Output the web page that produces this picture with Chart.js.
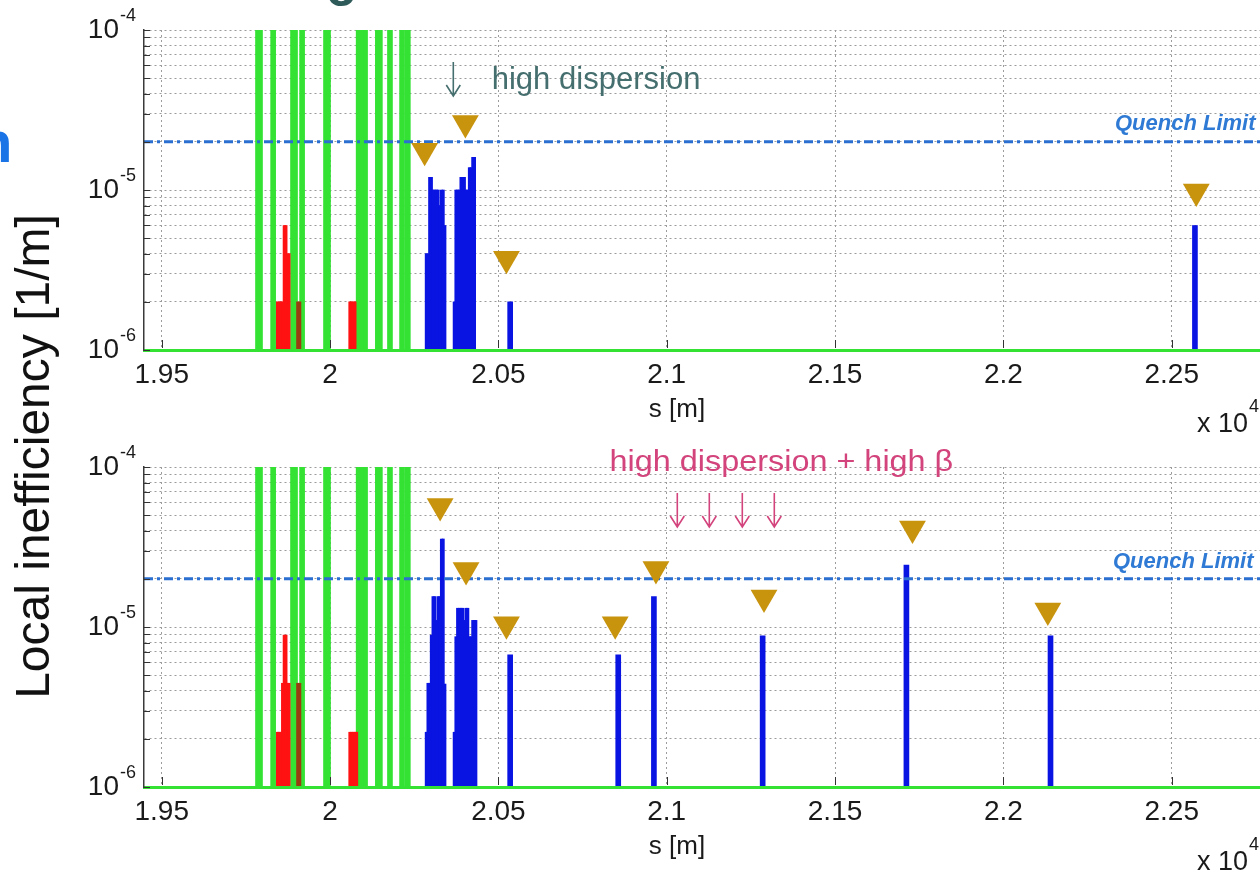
<!DOCTYPE html>
<html><head><meta charset="utf-8">
<script src="https://cdn.jsdelivr.net/npm/chart.js@4.4.1/dist/chart.umd.min.js"></script>
<style>
html,body{margin:0;padding:0;background:#fff;overflow:hidden;width:1260px;height:872px;}
#c1{position:absolute;left:0;top:0;}
#c2{position:absolute;left:0;top:437px;}
</style></head><body>
<canvas id="c1" width="1300" height="872"></canvas>
<canvas id="c2" width="1300" height="435"></canvas>
<script>
// ---------- axis ranges & ticks (s in units of 10^4 m) ----------
const X_MIN = 1.94474, X_MAX = 2.27979;
const Y_MIN = 1e-6, Y_MAX = 1e-4;
const X_TICKS = [1.95, 2, 2.05, 2.1, 2.15, 2.2, 2.25];
const Y_TICKS = [1e-6, 2e-6, 3e-6, 4e-6, 5e-6, 6e-6, 7e-6, 8e-6, 9e-6,
                 1e-5, 2e-5, 3e-5, 4e-5, 5e-5, 6e-5, 7e-5, 8e-5, 9e-5, 1e-4];
const Y_DECADES = [1e-6, 1e-5, 1e-4];
const Y_EXPONENTS = ['-6', '-5', '-4'];
const QUENCH_LIMIT = 2e-5;

// ---------- green (collimator) bars, identical in both panels ----------
const GREEN_WIDE_S = [1.9789, 1.9893, 1.9991, 2.0088, 2.0145];
const GREEN_WIDE_V = [1e-4, 1e-4, 1e-4, 1e-4, 1e-4];
const GREEN_NARROW_S = [1.9831, 1.9917, 2.0104, 2.0178, 2.0214, 2.0231];
const GREEN_NARROW_V = [1e-4, 1e-4, 1e-4, 1e-4, 1e-4, 1e-4];

// ---------- top panel ----------
const TOP_RED_S = [1.9844, 1.9849, 1.9854, 1.9859, 1.9864, 1.9869, 1.9874, 1.9878, 2.0059, 2.0064, 2.0069, 2.0074];
const TOP_RED_V = [2e-6, 2e-6, 2e-6, 2e-6, 6e-6, 6e-6, 4e-6, 4e-6, 2e-6, 2e-6, 2e-6, 2e-6];
const TOP_BROWN_S = [1.9904, 1.9910];
const TOP_BROWN_V = [2e-6, 2e-6];
const TOP_BLUE_S = [2.0286, 2.0291, 2.0296, 2.0301, 2.0306, 2.0311, 2.0316, 2.0321, 2.0326, 2.0331, 2.0336, 2.0341,
                    2.0369, 2.0374, 2.0379, 2.0384, 2.0389, 2.0394, 2.0399, 2.0404, 2.0409, 2.0414, 2.0419, 2.0424, 2.0429];
const TOP_BLUE_V = [4e-6, 4e-6, 1.2e-5, 1.2e-5, 1e-5, 1e-5, 1e-5, 1e-5, 8e-6, 1e-5, 1e-5, 6e-6,
                    2e-6, 1e-5, 1e-5, 1e-5, 1.2e-5, 1.2e-5, 1.2e-5, 1e-5, 1e-5, 1.38e-5, 1.38e-5, 1.6e-5, 1.6e-5];
const TOP_SPIKE_S = [2.0535, 2.2569];
const TOP_SPIKE_V = [2e-6, 6e-6];
const TOP_MARK_S = [2.0281, 2.0402, 2.0524, 2.2573];
const TOP_MARK_V = [1.76e-5, 2.62e-5, 3.72e-6, 9.8e-6];

// ---------- bottom panel ----------
const BOT_RED_S = [1.9844, 1.9849, 1.9854, 1.9859, 1.9864, 1.9869, 1.9874, 1.9878, 2.0059, 2.0064, 2.0069, 2.0074, 2.0079];
const BOT_RED_V = [2.2e-6, 2.2e-6, 2.2e-6, 4.45e-6, 8.9e-6, 8.9e-6, 4.45e-6, 4.45e-6, 2.2e-6, 2.2e-6, 2.2e-6, 2.2e-6, 2.2e-6];
const BOT_BROWN_S = [1.9904, 1.9910];
const BOT_BROWN_V = [4.45e-6, 4.45e-6];
const BOT_BLUE_S = [2.0286, 2.0291, 2.0296, 2.0301, 2.0306, 2.0311, 2.0316, 2.0321, 2.0326, 2.0331, 2.0336, 2.0341,
                    2.0369, 2.0374, 2.0379, 2.0384, 2.0389, 2.0394, 2.0399, 2.0404, 2.0409, 2.0414, 2.0419, 2.0424, 2.0429, 2.0433];
const BOT_BLUE_V = [2.2e-6, 4.45e-6, 4.45e-6, 8.9e-6, 1.55e-5, 1.55e-5, 1.1e-5, 1.55e-5, 1.55e-5, 3.55e-5, 3.55e-5, 4.4e-6,
                    2.2e-6, 8.7e-6, 1.31e-5, 1.31e-5, 1.31e-5, 1.31e-5, 1.1e-5, 1.31e-5, 1.31e-5, 8.7e-6, 8.7e-6, 1.1e-5, 1.1e-5, 1.1e-5];
const BOT_SPIKE_S = [2.0535, 2.0856, 2.0962, 2.1285, 2.1712, 2.2140];
const BOT_SPIKE_V = [6.7e-6, 6.7e-6, 1.55e-5, 8.8e-6, 2.44e-5, 8.8e-6];
const BOT_MARK_S = [2.0327, 2.0404, 2.0524, 2.0847, 2.0968, 2.1289, 2.1730, 2.2132];
const BOT_MARK_V = [5.7e-5, 2.27e-5, 1.04e-5, 1.04e-5, 2.3e-5, 1.53e-5, 4.13e-5, 1.27e-5];

// ---------- styles ----------
const FONT = "'Liberation Sans', Arial, Helvetica, sans-serif";
const GREEN = '#33e233', RED = '#ff1212', BROWN = '#9b3b12', BLUE = '#0a14e2', GOLD = '#c8940e';
const QUENCH_COLOR = '#2b6fd1', TEAL = '#456e6e', PINK = '#d3437c';

function pts(s, v) { return s.map((x, i) => ({x: x, y: v[i]})); }
function bar(s, v, color, thick, order) {
  return {type: 'bar', data: pts(s, v), backgroundColor: color, barThickness: thick,
          grouped: false, order: order, clip: 0, borderWidth: 0};
}
function panel(red, redV, brown, brownV, blue, blueV, spike, spikeV, mark, markV) {
  return [
    bar(GREEN_WIDE_S, GREEN_WIDE_V, GREEN, 7, 6),
    bar(GREEN_NARROW_S, GREEN_NARROW_V, GREEN, 5, 6),
    bar(red, redV, RED, 2.4, 5),
    bar(brown, brownV, BROWN, 2.4, 5),
    bar(blue, blueV, BLUE, 2.4, 4),
    bar(spike, spikeV, BLUE, 5, 4),
    {type: 'line', data: [{x: X_MIN, y: QUENCH_LIMIT}, {x: X_MAX, y: QUENCH_LIMIT}],
     borderColor: QUENCH_COLOR, borderWidth: 3, borderDash: [9, 4, 3, 4], pointRadius: 0, order: 1, clip: 0},
    {type: 'line', data: pts(mark, markV), showLine: false, pointStyle: 'triangle', pointRotation: 180,
     pointRadius: 15.5, pointBackgroundColor: GOLD, pointBorderWidth: 0, order: 0, clip: false}
  ];
}

const decor = {
  id: 'decor',
  afterDraw(chart, _args, o) {
    const {ctx, chartArea: a, scales: {x, y}} = chart;
    ctx.save();
    // inward tick marks
    ctx.strokeStyle = '#333'; ctx.lineWidth = 1; ctx.setLineDash([]);
    ctx.beginPath();
    Y_TICKS.forEach(v => { const py = Math.round(y.getPixelForValue(v)) + 0.5; ctx.moveTo(a.left, py); ctx.lineTo(a.left + 6, py); });
    X_TICKS.forEach(v => { const px = Math.round(x.getPixelForValue(v)) + 0.5; ctx.moveTo(px, a.bottom - 2); ctx.lineTo(px, a.bottom - 10); });
    ctx.stroke();
    // decade labels with superscript exponent
    ctx.fillStyle = '#1a1a1a';
    Y_DECADES.forEach((v, i) => {
      const py = y.getPixelForValue(v);
      ctx.font = '28px ' + FONT; ctx.textAlign = 'right'; ctx.textBaseline = 'middle';
      ctx.fillText('10', 119, py);
      ctx.font = '18px ' + FONT; ctx.textAlign = 'left';
      ctx.fillText(Y_EXPONENTS[i], 120, py - 14);
    });
    ctx.textBaseline = 'alphabetic';
    // x axis title
    ctx.font = '26px ' + FONT; ctx.textAlign = 'center';
    ctx.fillText('s [m]', o.xTitle.x, o.xTitle.y);
    // x 10^4
    ctx.textAlign = 'left'; ctx.font = '27px ' + FONT;
    ctx.fillText('x 10', o.expo.x, o.expo.y);
    const w = ctx.measureText('x 10').width;
    ctx.font = '18px ' + FONT;
    ctx.fillText('4', o.expo.x + w + 1, o.expo.y - 20);
    // quench limit label
    ctx.fillStyle = '#2f7ad4'; ctx.font = 'italic bold 22px ' + FONT;
    ctx.fillText('Quench Limit', o.quench.x, o.quench.y);
    // annotations
    o.notes.forEach(n => {
      ctx.save(); ctx.fillStyle = n.color; ctx.font = n.size + 'px ' + FONT;
      ctx.translate(n.x, n.y); ctx.scale(n.sx, 1); ctx.fillText(n.text, 0, 0); ctx.restore();
    });
    o.arrows.forEach(r => {
      ctx.strokeStyle = r.color; ctx.lineWidth = 1.6; ctx.beginPath();
      ctx.moveTo(r.x, r.y1); ctx.lineTo(r.x, r.y2);
      ctx.moveTo(r.x - 7, r.y2 - 11); ctx.lineTo(r.x, r.y2); ctx.lineTo(r.x + 7, r.y2 - 11);
      ctx.stroke();
    });
    if (o.extras) {
      ctx.fillStyle = '#111'; ctx.font = '48px ' + FONT; ctx.textAlign = 'center';
      ctx.save(); ctx.translate(49, 456.5); ctx.rotate(-Math.PI / 2);
      ctx.fillText('Local inefficiency [1/m]', 0, 0); ctx.restore();
      ctx.textAlign = 'left';
      ctx.fillStyle = '#1a74e6'; ctx.font = 'bold 58px ' + FONT;
      ctx.fillText('n', -23, 161.7);
      ctx.fillStyle = '#2e5a5a'; ctx.font = 'bold 50px ' + FONT;
      ctx.fillText('o', 326, 6);
    }
    ctx.restore();
  }
};

function makeChart(id, datasets, padTop, padBottom, xHeight, deco) {
  return new Chart(document.getElementById(id), {
    type: 'bar',
    data: {datasets: datasets},
    plugins: [decor],
    options: {
      responsive: false, animation: false, events: [],
      layout: {padding: {left: 0, top: padTop, right: 28, bottom: padBottom}},
      plugins: {legend: {display: false}, tooltip: {enabled: false}, decor: deco},
      scales: {
        x: {type: 'linear', min: X_MIN, max: X_MAX, bounds: 'data', offset: false,
            afterBuildTicks: s => { s.ticks = X_TICKS.map(v => ({value: v})); },
            afterFit: s => { s.height = xHeight; },
            grid: {color: '#9c9c9c', lineWidth: 1, drawTicks: false, offset: false},
            border: {display: true, color: GREEN, width: 3, dash: [2, 3], z: 1},
            ticks: {font: {family: FONT, size: 28}, color: '#1a1a1a', padding: 8, maxRotation: 0, autoSkip: false,
                    callback: v => String(+(+v).toFixed(2))}},
        y: {type: 'logarithmic', min: Y_MIN, max: Y_MAX, bounds: 'data',
            afterBuildTicks: s => { s.ticks = Y_TICKS.map(v => ({value: v})); },
            afterFit: s => { s.width = 144; },
            grid: {color: '#9c9c9c', lineWidth: 1, drawTicks: false},
            border: {display: true, color: '#3a3a3a', width: 1.5, dash: [2, 3], z: 1},
            ticks: {display: false}}
      }
    }
  });
}

makeChart('c1',
  panel(TOP_RED_S, TOP_RED_V, TOP_BROWN_S, TOP_BROWN_V, TOP_BLUE_S, TOP_BLUE_V, TOP_SPIKE_S, TOP_SPIKE_V, TOP_MARK_S, TOP_MARK_V),
  30, 432, 90,
  {xTitle: {x: 677, y: 417}, expo: {x: 1197, y: 432}, quench: {x: 1115, y: 130},
   notes: [{text: 'high dispersion', x: 491.7, y: 89, size: 32, sx: 0.97, color: TEAL}],
   arrows: [{x: 453.3, y1: 62, y2: 96, color: TEAL}], extras: true});

makeChart('c2',
  panel(BOT_RED_S, BOT_RED_V, BOT_BROWN_S, BOT_BROWN_V, BOT_BLUE_S, BOT_BLUE_V, BOT_SPIKE_S, BOT_SPIKE_V, BOT_MARK_S, BOT_MARK_V),
  30, 0, 85,
  {xTitle: {x: 677, y: 417}, expo: {x: 1197, y: 433}, quench: {x: 1113, y: 131},
   notes: [{text: 'high dispersion + high \u03B2', x: 609.5, y: 34, size: 30, sx: 1.08, color: PINK}],
   arrows: [677.3, 709.3, 742.3, 774.3].map(px => ({x: px, y1: 56, y2: 90, color: PINK})), extras: false});
</script></body></html>
